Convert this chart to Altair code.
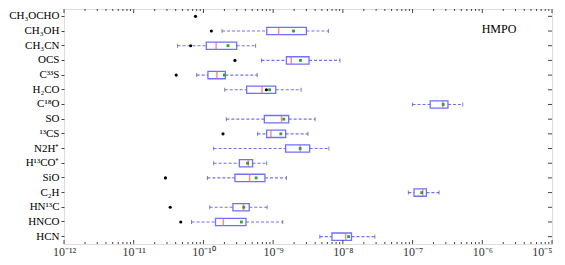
import altair as alt
import pandas as pd

species = ["CH₃OCHO", "CH₃OH", "CH₃CN", "OCS", "C³³S", "H₂CO", "C¹⁸O", "SO",
           "¹³CS", "N2H⁺", "H¹³CO⁺", "SiO", "C₂H", "HN¹³C", "HNCO", "HCN"]
lo   = [None, 1.85e-10, 4.25e-11, 6.8e-10, 8.0e-11, 2.02e-10, 1.0e-7, 2.13e-10,
        5.97e-10, 1.4e-10, 1.4e-10, 1.14e-10, 8.7e-8, 1.23e-10, 6.76e-11, 4.67e-9]
q1   = [None, 8.1e-10, 1.1e-10, 1.55e-9, 1.16e-10, 4.17e-10, 1.79e-7, 7.48e-10,
        8.07e-10, 1.51e-9, 3.28e-10, 2.83e-10, 1.05e-7, 2.65e-10, 1.49e-10, 6.97e-9]
med  = [None, 1.2e-9, 1.52e-10, 1.82e-9, 1.56e-10, 6.93e-10, 2.71e-7, 1.32e-9,
        9.3e-10, 2.44e-9, 4.4e-10, 4.6e-10, 1.4e-7, 3.74e-10, 1.93e-10, 1.1e-8]
mean = [None, 1.96e-9, 2.25e-10, 2.47e-9, 2.0e-10, 8.9e-10, 2.75e-7, 1.42e-9,
        1.29e-9, 2.44e-9, 4.3e-10, 5.7e-10, 1.35e-7, 3.8e-10, 3.5e-10, 1.21e-8]
q3   = [None, 3.0e-9, 3.0e-10, 3.27e-9, 2.06e-10, 1.09e-9, 3.22e-7, 1.67e-9,
        1.51e-9, 3.34e-9, 5.07e-10, 7.63e-10, 1.58e-7, 4.54e-10, 4.08e-10, 1.33e-8]
hi   = [None, 6.2e-9, 5.6e-10, 9.1e-9, 5.9e-10, 2.52e-9, 5.25e-7, 4.0e-9,
        3.16e-9, 6.3e-9, 8.07e-10, 1.55e-9, 2.4e-7, 8.2e-10, 1.37e-9, 2.88e-8]
dot  = [7.7e-11, 1.3e-10, 6.55e-11, 2.83e-10, 4.07e-11, 8.0e-10, None, None,
        1.91e-10, None, None, 2.85e-11, None, 3.34e-11, 4.73e-11, None]

x_labels = ["10⁻¹²", "10⁻¹¹", "10⁻¹⁰", "10⁻⁹", "10⁻⁸", "10⁻⁷", "10⁻⁶", "10⁻⁵"]
major_ticks = [1e-12, 1e-11, 1e-10, 1e-9, 1e-8, 1e-7, 1e-6, 1e-5]
minor_ticks = [m * d for d in major_ticks[:-1] for m in range(2, 10)]

FONT = "Liberation Serif"

df = pd.DataFrame(dict(sp=species, lo=lo, q1=q1, med=med, mean=mean, q3=q3, hi=hi, dot=dot))

xs = alt.Scale(type="log", domain=[1e-12, 1e-5])
ys = alt.Scale(domain=species, paddingInner=0, paddingOuter=0)

label_arr = "[" + ",".join("'%s'" % s for s in x_labels) + "]"
x_axis = alt.Axis(title=None, values=major_ticks, ticks=False, domain=False, grid=False,
                  labelExpr=label_arr + "[round(log(datum.value)/LN10)+12]",
                  labelAlign={"condition": {"test": "datum.value >= 5e-6", "value": "right"},
                              "value": "center"},
                  labelFont=FONT, labelFontSize=12, labelColor="#333", labelPadding=2,
                  labelFlush=False)
y_axis = alt.Axis(title=None, domain=False, grid=False, tickSize=3, tickColor="#444",
                  labelFont=FONT, labelFontSize=11, labelColor="black", labelPadding=2)


def X(field):
    return alt.X(field, scale=xs, axis=x_axis)


Y = alt.Y("sp:N", sort=species, scale=ys, axis=y_axis)

base = alt.Chart(df)

box = base.mark_bar(height={"band": 0.5}, fill="white", fillOpacity=0,
                    stroke="#7070ff", strokeWidth=1.3).encode(
    x=X("q1:Q"), x2="q3:Q", y=Y)
wl = base.mark_rule(strokeDash=[3, 2], color="#7070ff", strokeWidth=1.1).encode(
    x=X("lo:Q"), x2="q1:Q", y=Y)
wr = base.mark_rule(strokeDash=[3, 2], color="#7070ff", strokeWidth=1.1).encode(
    x=X("q3:Q"), x2="hi:Q", y=Y)
capl = base.mark_tick(size=4, thickness=1, color="#555").encode(x=X("lo:Q"), y=Y)
capr = base.mark_tick(size=4, thickness=1, color="#555").encode(x=X("hi:Q"), y=Y)
medl = base.mark_tick(size=7.5, thickness=1.5, color="#ff6060").encode(x=X("med:Q"), y=Y)
meanp = base.mark_square(size=8, color="#30a030", opacity=1).encode(x=X("mean:Q"), y=Y)
dots = base.mark_circle(size=10, color="black", opacity=1).encode(x=X("dot:Q"), y=Y)

# inward tick marks of the frame
tdf = pd.DataFrame({"v": major_ticks + minor_ticks,
                    "len": [4] * len(major_ticks) + [2] * len(minor_ticks)})
tck = alt.Chart(tdf)
tb_major = tck.transform_filter("datum.len == 4")
tb_minor = tck.transform_filter("datum.len == 2")
bt1 = tb_major.mark_rule(color="#444").encode(
    x=X("v:Q"), y=alt.value("height"), y2=alt.value({"expr": "height - 4"}))
bt2 = tb_minor.mark_rule(color="#444").encode(
    x=X("v:Q"), y=alt.value("height"), y2=alt.value({"expr": "height - 2"}))
tt1 = tb_major.mark_rule(color="#444").encode(x=X("v:Q"), y=alt.value(0), y2=alt.value(4))
tt2 = tb_minor.mark_rule(color="#444").encode(x=X("v:Q"), y=alt.value(0), y2=alt.value(2))
rt = base.mark_rule(color="#444").encode(
    x=alt.value({"expr": "width - 4"}), x2=alt.value("width"), y=Y)

title_df = pd.DataFrame({"t": ["HMPO"]})
hmpo = alt.Chart(title_df).mark_text(font=FONT, fontSize=12, color="black").encode(
    text="t:N", x=alt.value({"expr": "width - 53"}), y=alt.value(20))

chart = alt.layer(box, wl, wr, capl, capr, medl, meanp, dots,
                  bt1, bt2, tt1, tt2, rt, hmpo).properties(
    width=545, height=249, padding=0,
    autosize=alt.AutoSizeParams(type="fit", contains="padding")
).configure_view(stroke="#444", strokeWidth=1).configure(background="white")

chart.save("out.html", embed_options={"renderer": "svg", "actions": False})
